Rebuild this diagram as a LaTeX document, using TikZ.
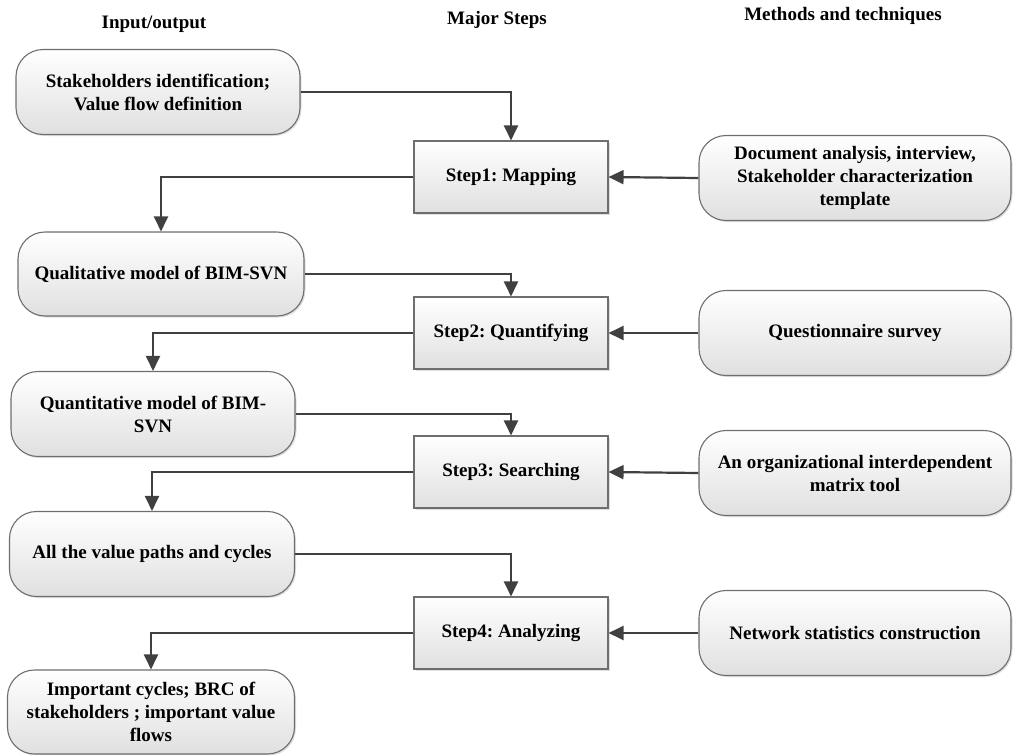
\documentclass[tikz,border=0pt]{standalone}
\usepackage{fontspec}
\setmainfont{Liberation Serif}
\frenchspacing
\usetikzlibrary{arrows.meta,shadows}
\definecolor{bordercol}{HTML}{6E6E6E}
\definecolor{linecol}{HTML}{404040}
\definecolor{boxbot}{HTML}{E0E0E0}
\tikzset{
  txt/.style={font=\bfseries\fontsize{19}{23}\selectfont, align=center, text=black},
  hdr/.style={font=\bfseries\fontsize{19}{23}\selectfont, text=black},
  basebox/.style={txt, draw=bordercol, line width=1.1pt, top color=white, bottom color=boxbot,
    inner sep=0pt, drop shadow={shadow xshift=1.5pt, shadow yshift=-1.5pt, opacity=0.25, fill=gray}},
  rbox/.style={basebox, rounded corners=27pt, minimum height=85pt},
  sbox/.style={basebox, minimum width=194pt, minimum height=72pt},
  conn/.style={draw=linecol, line width=2.2pt, -{Triangle[length=15pt,width=14pt]}}
}
\begin{document}
\begin{tikzpicture}[x=1pt,y=-1pt]
\useasboundingbox (0,0) rectangle (1013,755);
% headers
\node[hdr] (h1) at (154,24) {Input/output};
\node[hdr] (h2) at (497,20) {Major Steps};
\node[hdr] (h3) at (843,16) {Methods and techniques};
% left column
\node[rbox, minimum width=284pt] (L1) at (158,92) {Stakeholders identification;\\Value flow definition};
\node[rbox, minimum width=286pt, minimum height=84pt] (L2) at (161,274) {Qualitative model of BIM-SVN};
\node[rbox, minimum width=284pt] (L3) at (153,414) {Quantitative model of BIM-\\SVN};
\node[rbox, minimum width=285pt] (L4) at (152,554) {All the value paths and cycles};
\node[rbox, minimum width=287pt, minimum height=84pt] (L5) at (151,712) {Important cycles; BRC of\\stakeholders ; important value\\flows};
% steps
\node[sbox] (S1) at (511,177) {Step1: Mapping};
\node[sbox] (S2) at (511,333) {Step2: Quantifying};
\node[sbox] (S3) at (511,472) {Step3: Searching};
\node[sbox] (S4) at (511,633) {Step4: Analyzing};
% right column
\node[rbox, minimum width=312pt] (R1) at (855,178) {Document analysis, interview,\\Stakeholder characterization\\template};
\node[rbox, minimum width=312pt] (R2) at (855,333) {Questionnaire survey};
\node[rbox, minimum width=312pt] (R3) at (855,473) {An organizational interdependent\\matrix tool};
\node[rbox, minimum width=312pt] (R4) at (855,633) {Network statistics construction};
% connectors
\draw[conn] (L1.east) -| (S1.north);
\draw[conn] (S1.west) -| (L2.north);
\draw[conn] (L2.east) -| (S2.north);
\draw[conn] (S2.west) -| (L3.north);
\draw[conn] (L3.east) -| (S3.north);
\draw[conn] (S3.west) -| (L4.north);
\draw[conn] (L4.east) -| (S4.north);
\draw[conn] (S4.west) -| (L5.north);
\draw[conn] (R1.west) -- (S1.east);
\draw[conn] (R2.west) -- (S2.east);
\draw[conn] (R3.west) -- (S3.east);
\draw[conn] (R4.west) -- (S4.east);
\end{tikzpicture}
\end{document}
